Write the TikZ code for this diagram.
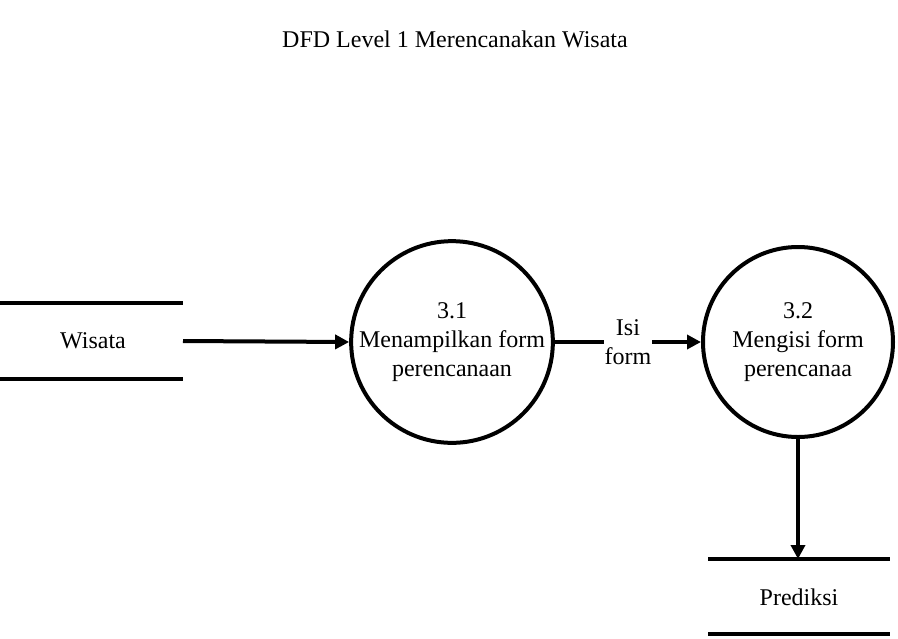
\documentclass[tikz,border=0pt]{standalone}
\usepackage{fontspec}
\setmainfont{Liberation Serif}
\usetikzlibrary{arrows.meta}
\begin{document}
\begin{tikzpicture}[x=1pt,y=-1pt,
  txt/.style={font=\rmfamily\fontsize{24}{29}\selectfont, align=center, inner sep=0pt},
  proc/.style={circle, draw, line width=4pt, minimum size=190pt, inner sep=0pt, font=\rmfamily\fontsize{24}{29}\selectfont, align=center},
  storeline/.style={line width=4pt},
  flow/.style={line width=4pt, -{Triangle[length=14pt,width=14pt]}}]
\useasboundingbox (0,0) rectangle (898,638);
\node[txt] (title) at (455,39) {DFD Level 1 Merencanakan Wisata};
% Wisata data store
\coordinate (w1a) at (0,303); \coordinate (w1b) at (183,303);
\coordinate (w2a) at (0,379); \coordinate (w2b) at (183,379);
\draw[storeline] (w1a) -- (w1b);
\draw[storeline] (w2a) -- (w2b);
\node[txt] (wisata) at (93,341) {Wisata};
\coordinate (wout) at (183,341);
% processes
\node[proc] (p1) at (452,342) {3.1\\Menampilkan form\\perencanaan};
\node[proc] (p2) at (798,342) {3.2\\Mengisi form\\perencanaa};
% Prediksi data store
\coordinate (pr1a) at (708,559); \coordinate (pr1b) at (890,559);
\coordinate (pr2a) at (708,634); \coordinate (pr2b) at (890,634);
\draw[storeline] (pr1a) -- (pr1b);
\draw[storeline] (pr2a) -- (pr2b);
\node[txt] (prediksi) at (799,597) {Prediksi};
\coordinate (prin) at (798,559);
% flows
\draw[flow] (wout) -- (p1.west);
\draw[flow] (p1.east) -- node[txt, fill=white, inner xsep=1pt, inner ysep=3pt] (lbl) {Isi\\form} (p2.west);
\draw[flow] (p2.south) -- (prin);
\end{tikzpicture}
\end{document}
